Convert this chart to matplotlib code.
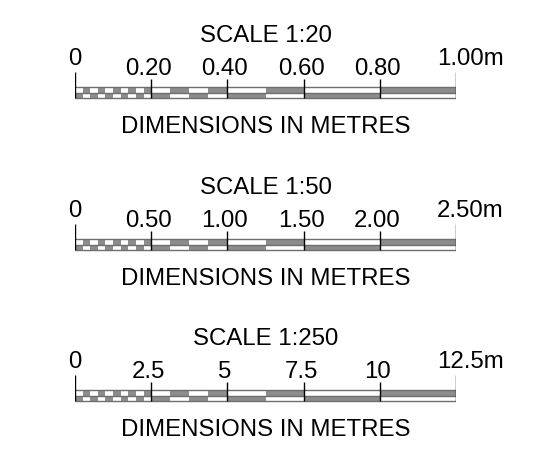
import matplotlib.pyplot as plt
from matplotlib.patches import Rectangle

plt.rcParams['font.family'] = ['Liberation Sans', 'DejaVu Sans']

# Scale bar data
scale_titles = ['SCALE 1:20', 'SCALE 1:50', 'SCALE 1:250']
tick_values = [
    [0, 0.2, 0.4, 0.6, 0.8, 1.0],
    [0, 0.5, 1.0, 1.5, 2.0, 2.5],
    [0, 2.5, 5, 7.5, 10, 12.5],
]
tick_labels = [
    ['0', '0.20', '0.40', '0.60', '0.80', '1.00m'],
    ['0', '0.50', '1.00', '1.50', '2.00', '2.50m'],
    ['0', '2.5', '5', '7.5', '10', '12.5m'],
]
subdivisions = [10, 4, 2, 1, 1]          # blocks per major segment
top_starts_grey = [False, False, False, False, True]
footer = 'DIMENSIONS IN METRES'

# Layout (pixels, figure is 541x450)
W, H = 541, 450
bar_left, bar_right = 75, 456
panel_offsets = [0, 152, 303]
grey = '#8c8c8c'
edge = '#6e6e6e'
fs = 17.3

fig = plt.figure(figsize=(W / 100, H / 100), dpi=100)

for p in range(3):
    ticks = tick_values[p]
    vmax = ticks[-1]
    off = panel_offsets[p]
    px = vmax / (bar_right - bar_left)   # data units per pixel

    ax = fig.add_axes([bar_left / W, 0, (bar_right - bar_left) / W, 1])
    ax.set_xlim(0, vmax)
    ax.set_ylim(H, 0)
    ax.axis('off')

    top, mid, bot = 87 + off, 92.5 + off, 98 + off

    # checkered / striped blocks
    for k in range(len(ticks) - 1):
        n = subdivisions[k]
        w = (ticks[k + 1] - ticks[k]) / n
        for j in range(n):
            x = ticks[k] + j * w
            top_grey = (j % 2 == 1) != top_starts_grey[k]
            if top_grey:
                ax.add_patch(Rectangle((x, top), w, mid - top, facecolor=grey, edgecolor='none'))
            else:
                ax.add_patch(Rectangle((x, mid), w, bot - mid, facecolor=grey, edgecolor='none'))

    ax.hlines([top, mid, bot], 0, vmax, colors=edge, linewidth=1)

    # tick marks
    for i, t in enumerate(ticks):
        y0 = 72 + off if i in (0, len(ticks) - 1) else 79 + off
        ax.vlines(t, y0, bot, colors='black', linewidth=1)

    # labels
    for i, (t, lab) in enumerate(zip(ticks, tick_labels[p])):
        if i == 0:
            ax.text(t, 65 + off, lab, ha='center', va='baseline', fontsize=fs)
        elif i == len(ticks) - 1:
            ax.text(t - 19 * px, 65 + off, lab, ha='left', va='baseline', fontsize=fs)
        else:
            ax.text(t - 2.5 * px, 75 + off, lab, ha='center', va='baseline', fontsize=fs)

    ax.text(vmax / 2, 42 + off, scale_titles[p], ha='center', va='baseline', fontsize=fs)
    ax.text(vmax / 2, 133 + off, footer, ha='center', va='baseline', fontsize=fs)

fig.savefig('out.png', dpi=100, facecolor='white')
